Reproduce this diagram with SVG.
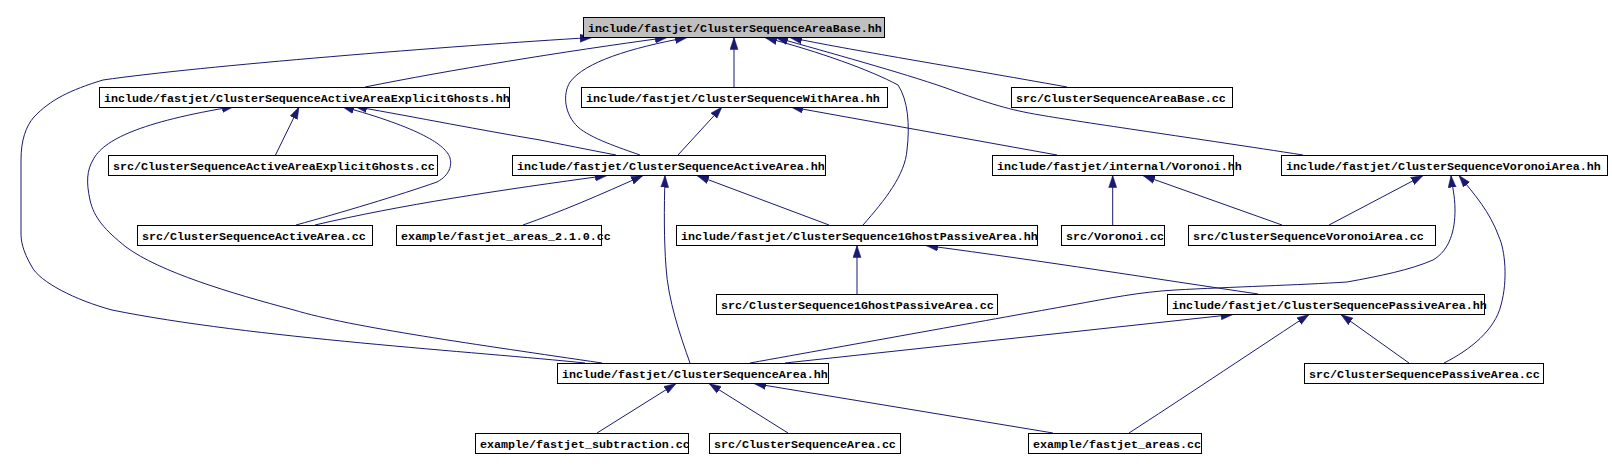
<svg xmlns="http://www.w3.org/2000/svg" width="1612" height="470" viewBox="0 0 1612 470">
<style>
.n rect{fill:#fff;stroke:#000;stroke-width:1}
.n.root rect{fill:#bfbfbf}
.n text{font-family:"Liberation Mono","DejaVu Sans Mono",monospace;font-weight:bold;font-size:11.67px;fill:#000}
.e path{fill:none;stroke:#191970;stroke-width:1;marker-end:url(#ah)}
</style>
<defs>
<marker id="ah" markerUnits="userSpaceOnUse" markerWidth="13" markerHeight="9" refX="12" refY="4.5" orient="auto">
<path d="M0,0.5 L12,4.5 L0,8.5 z" fill="#191970" stroke="#191970" stroke-width="0.5"/>
</marker>
</defs>
<rect width="1612" height="470" fill="#fff"/>
<g class="e" id="edges">
<path d="M585,363 C480,352 250,338 112,310 C75,300 40,282 32,267 C22,250 21,240 21,233 L21,160 C21,140 26,126 34,117 C50,100 70,90 103,80 C200,66 450,46 592,37.5"/>
<path d="M602,363 C480,345 350,327 294,310 C230,293 160,272 126,247 C105,230 94,218 90,200 C86,182 87,170 93,160 C103,140 140,122 234,106.5"/>
<path d="M275.5,155 L299,107"/>
<path d="M296,225 C340,213 400,195 437,182 C450,175 452,165 450,158 C446,145 420,128 342,106.5"/>
<path d="M616,155 C590,150 560,144 540,140 C480,130 420,118 355,106.5"/>
<path d="M365,87 C450,70 560,52 667,37.5"/>
<path d="M640,155 C620,148 590,138 578,127 C565,115 562,95 570,82 C585,62 630,48 687,37.5"/>
<path d="M734,87 L734,37.5"/>
<path d="M863,225 C885,200 905,175 907,150 C910,125 908,100 898,85 C870,70 820,52 765,37.5"/>
<path d="M1303,155 C1200,139 1080,122 1040,115 C1010,110 990,104 946,88 C900,72 830,53 776,37.5"/>
<path d="M1067,87 C950,66 850,50 790,37.5"/>
<path d="M678,155 L722,107"/>
<path d="M1057,155 L791,107"/>
<path d="M315,225 C400,205 500,190 607,175.5"/>
<path d="M523,225 C560,212 600,195 643,175.5"/>
<path d="M690,363 C680,335 668,300 666,267 C664,240 664,210 665,175.5"/>
<path d="M829,225 L697,175.5"/>
<path d="M857,294 L857,245.5"/>
<path d="M1258,294 C1150,278 1050,262 926,245.5"/>
<path d="M1112.7,225 L1112.7,175.5"/>
<path d="M1282,225 L1143,175.5"/>
<path d="M1329,225 L1423,175.5"/>
<path d="M750,363 C850,345 1000,318 1072,305 C1110,298 1140,292 1175,290 C1230,287 1300,285 1347,282 C1380,276 1410,270 1433,260 C1450,250 1455,230 1455,210 C1455,195 1452,186 1451,175.5"/>
<path d="M1444,363 C1470,350 1495,330 1501,305 C1508,280 1505,250 1499,237 C1490,212 1475,195 1459,175.5"/>
<path d="M785,363 L1233,314.5"/>
<path d="M1129,433 C1180,400 1240,360 1309,314.5"/>
<path d="M1409,363 L1341,314.5"/>
<path d="M597,433 L676,383.5"/>
<path d="M788,433 L709,383.5"/>
<path d="M1053,433 L754,383.5"/>
</g>
<g class="n root" id="n_areabase_hh"><rect x="583.5" y="17.5" width="301" height="20"/><text x="588" y="31.5">include/fastjet/ClusterSequenceAreaBase.hh</text></g>
<g class="n" id="n_explicitghosts_hh"><rect x="99.5" y="87.5" width="410" height="20"/><text x="104" y="101.5">include/fastjet/ClusterSequenceActiveAreaExplicitGhosts.hh</text></g>
<g class="n" id="n_witharea_hh"><rect x="581.5" y="87.5" width="306" height="20"/><text x="586" y="101.5">include/fastjet/ClusterSequenceWithArea.hh</text></g>
<g class="n" id="n_areabase_cc"><rect x="1011.5" y="87.5" width="221" height="20"/><text x="1016" y="101.5">src/ClusterSequenceAreaBase.cc</text></g>
<g class="n" id="n_explicitghosts_cc"><rect x="108.5" y="155.5" width="329" height="20"/><text x="113" y="169.5">src/ClusterSequenceActiveAreaExplicitGhosts.cc</text></g>
<g class="n" id="n_activearea_hh"><rect x="512.5" y="155.5" width="313" height="20"/><text x="517" y="169.5">include/fastjet/ClusterSequenceActiveArea.hh</text></g>
<g class="n" id="n_voronoi_hh"><rect x="992.5" y="155.5" width="241" height="20"/><text x="997" y="169.5">include/fastjet/internal/Voronoi.hh</text></g>
<g class="n" id="n_voronoiarea_hh"><rect x="1281.5" y="155.5" width="326" height="20"/><text x="1286" y="169.5">include/fastjet/ClusterSequenceVoronoiArea.hh</text></g>
<g class="n" id="n_activearea_cc"><rect x="137.5" y="225.5" width="235" height="20"/><text x="142" y="239.5">src/ClusterSequenceActiveArea.cc</text></g>
<g class="n" id="n_areas210_cc"><rect x="396.5" y="225.5" width="205" height="20"/><text x="401" y="239.5">example/fastjet_areas_2.1.0.cc</text></g>
<g class="n" id="n_1ghost_hh"><rect x="676.5" y="225.5" width="361" height="20"/><text x="681" y="239.5">include/fastjet/ClusterSequence1GhostPassiveArea.hh</text></g>
<g class="n" id="n_voronoi_cc"><rect x="1061.5" y="225.5" width="103" height="20"/><text x="1066" y="239.5">src/Voronoi.cc</text></g>
<g class="n" id="n_voronoiarea_cc"><rect x="1188.5" y="225.5" width="247" height="20"/><text x="1193" y="239.5">src/ClusterSequenceVoronoiArea.cc</text></g>
<g class="n" id="n_1ghost_cc"><rect x="716.5" y="294.5" width="281" height="20"/><text x="721" y="308.5">src/ClusterSequence1GhostPassiveArea.cc</text></g>
<g class="n" id="n_passive_hh"><rect x="1167.5" y="294.5" width="317" height="20"/><text x="1172" y="308.5">include/fastjet/ClusterSequencePassiveArea.hh</text></g>
<g class="n" id="n_area_hh"><rect x="557.5" y="363.5" width="271" height="20"/><text x="562" y="377.5">include/fastjet/ClusterSequenceArea.hh</text></g>
<g class="n" id="n_passive_cc"><rect x="1304.5" y="363.5" width="239" height="20"/><text x="1309" y="377.5">src/ClusterSequencePassiveArea.cc</text></g>
<g class="n" id="n_subtraction_cc"><rect x="475.5" y="433.5" width="213" height="20"/><text x="480" y="447.5">example/fastjet_subtraction.cc</text></g>
<g class="n" id="n_area_cc"><rect x="709.5" y="433.5" width="191" height="20"/><text x="714" y="447.5">src/ClusterSequenceArea.cc</text></g>
<g class="n" id="n_areas_cc"><rect x="1028.5" y="433.5" width="173" height="20"/><text x="1033" y="447.5">example/fastjet_areas.cc</text></g>
</svg>
